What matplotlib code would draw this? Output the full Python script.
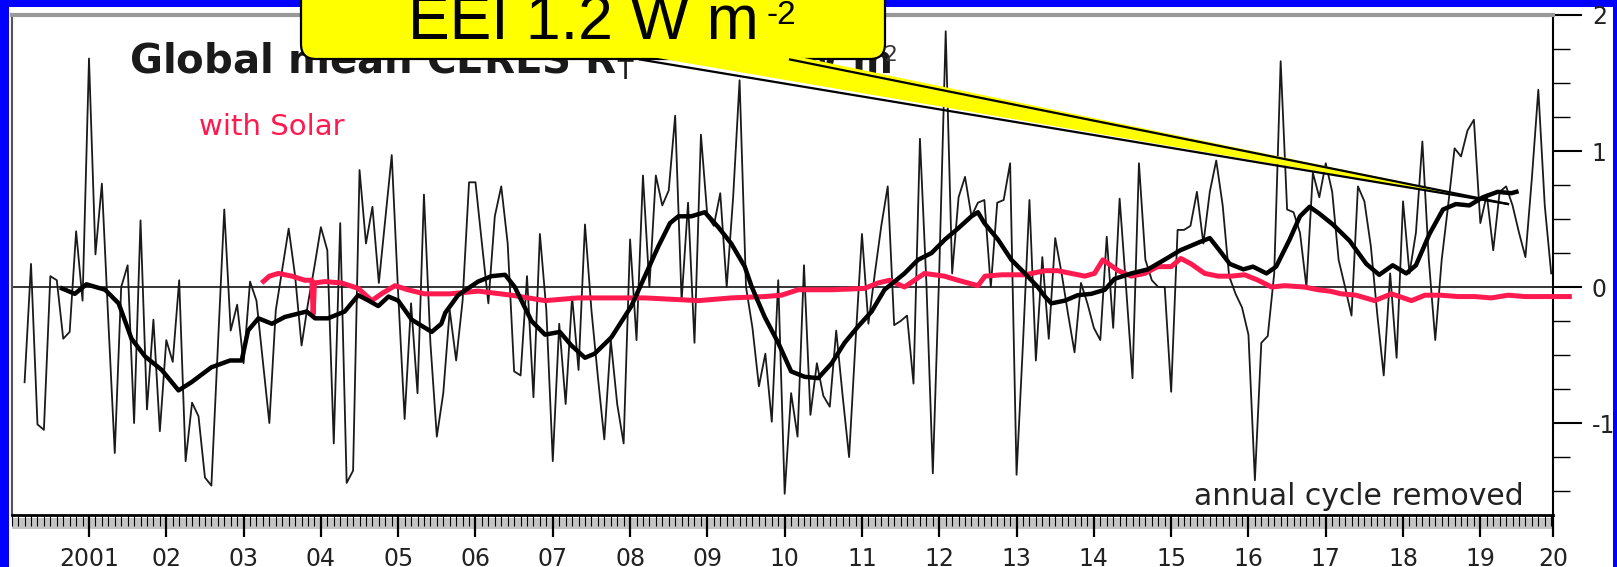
# Global mean CERES net radiation at the top of the atmosphere (R_T), with the EEI callout
# Values

import numpy as np
import matplotlib.pyplot as plt
from matplotlib.patches import FancyBboxPatch, Polygon, Rectangle
from matplotlib.lines import Line2D
from matplotlib.ticker import MultipleLocator

plt.rcParams['mathtext.fontset'] = 'custom'
plt.rcParams['mathtext.rm'] = 'Liberation Sans'
plt.rcParams['mathtext.it'] = 'Liberation Sans:italic'
plt.rcParams['mathtext.bf'] = 'Liberation Sans:bold'

# monthly R_T anomaly (W m-2), first value is March 2000 (months counted from Jan 2000)
rt_first_month = 2
rt_monthly = [
    -0.70, 0.17, -1.01, -1.05, 0.08, 0.05, -0.38, -0.33, 0.41, -0.10,                # 2000
    1.68, 0.24, 0.76, -0.25, -1.22, 0.00, 0.16, -1.00, 0.49, -0.90, -0.24, -1.06,    # 2001
    -0.39, -0.55, 0.05, -1.28, -0.85, -0.95, -1.40, -1.46, -0.45, 0.57, -0.32, -0.13,  # 2002
    -0.56, 0.04, -0.10, -0.55, -1.00, -0.17, 0.13, 0.43, 0.08, -0.43, -0.12, 0.15,   # 2003
    0.44, 0.27, -1.15, 0.47, -1.44, -1.35, 0.86, 0.32, 0.59, 0.03, 0.50, 0.97,       # 2004
    -0.05, -0.97, -0.12, -0.78, 0.68, -0.41, -1.10, -0.78, -0.17, -0.54, -0.10, 0.77,  # 2005
    0.77, 0.32, -0.12, 0.52, 0.74, 0.32, -0.62, -0.65, 0.08, -0.81, 0.39, -0.17,     # 2006
    -1.28, -0.27, -0.86, -0.07, -0.61, 0.46, -0.17, -0.66, -1.12, -0.39, -0.86, -1.15,  # 2007
    0.35, -0.39, 0.82, 0.00, 0.82, 0.60, 0.71, 1.26, -0.10, 0.62, -0.41, 1.12,       # 2008
    0.52, 0.45, 0.69, 0.00, 0.66, 1.52, 0.00, -0.30, -0.73, -0.49, -0.99, 0.05,      # 2009
    -1.52, -0.78, -1.10, 0.16, -0.94, -0.56, -0.80, -0.88, -0.32, -0.80, -1.25, -0.40,  # 2010
    0.39, -0.27, 0.10, 0.45, 0.74, -0.28, -0.25, -0.21, -0.71, 1.09, 0.03, -1.37,    # 2011
    0.12, 1.88, 0.10, 0.66, 0.81, 0.52, 0.62, 0.64, 0.00, 0.62, 0.64, 0.91,          # 2012
    -1.38, -0.41, 0.64, -0.54, 0.22, -0.38, 0.36, 0.10, -0.20, -0.48, 0.03, -0.12,   # 2013
    -0.30, -0.39, 0.37, -0.30, 0.65, 0.00, -0.67, 0.91, 0.20, 0.05, 0.00, 0.00,      # 2014
    -0.77, 0.42, 0.42, 0.45, 0.70, 0.32, 0.70, 0.93, 0.60, 0.08, -0.05, -0.15,       # 2015
    -0.35, -1.42, -0.41, -0.36, 0.10, 1.66, 0.57, 0.55, 0.40, 0.00, 0.84, 0.66,      # 2016
    0.91, 0.70, 0.20, 0.00, -0.21, 0.74, 0.63, 0.30, -0.20, -0.65, 0.10, -0.52,      # 2017
    0.63, 0.10, 0.40, 1.07, 0.20, -0.39, 0.20, 0.60, 1.02, 0.96, 1.15, 1.23,         # 2018
    0.47, 0.68, 0.27, 0.70, 0.74, 0.60, 0.40, 0.22, 0.80, 1.45, 0.60, 0.10,          # 2019
]

# 12-month running mean (thick black), months since Jan 2000 and value
smooth_month = [7.8, 9.8, 11.6, 14.5, 16.6, 18.6, 20.7, 23.3, 25.9, 27.9, 31.0, 33.9,
                35.7, 36.7, 38.3, 40.4, 42.4, 45.8, 47.1, 49.1, 51.7, 53.8, 55.4, 56.9,
                58.5, 60.0, 62.1, 65.2, 66.7, 67.3, 69.3, 72.4, 74.5, 76.6, 78.1, 80.7,
                82.8, 85.1, 86.9, 89.0, 90.5, 93.1, 96.2, 98.3, 100.4, 102.2, 103.5, 105.5,
                107.6, 109.7, 111.7, 113.8, 114.9, 116.9, 119.0, 121.0, 123.1, 125.2, 127.3, 129.3,
                131.4, 133.5, 135.5, 138.6, 140.7, 142.8, 144.9, 146.9, 149.0, 150.0, 151.0, 153.1,
                155.2, 157.3, 159.3, 160.4, 161.4, 163.5, 165.5, 167.6, 169.7, 171.2, 173.8, 176.4,
                179.3, 181.4, 184.4, 186.0, 187.5, 189.1, 191.2, 192.7, 194.8, 196.3, 198.4, 200.0,
                201.5, 203.0, 205.1, 207.7, 210.3, 212.3, 214.4, 216.5, 218.0, 220.1, 222.2, 224.2,
                226.3, 228.4, 230.7, 232.8, 233.6]
smooth_value = [-0.01, -0.05, 0.02, -0.02, -0.12, -0.38, -0.51, -0.61, -0.76, -0.70, -0.59, -0.54,
                -0.54, -0.32, -0.23, -0.27, -0.22, -0.18, -0.23, -0.23, -0.18, -0.06, -0.10, -0.14,
                -0.07, -0.10, -0.24, -0.33, -0.27, -0.19, -0.06, 0.04, 0.08, 0.09, 0.00, -0.25,
                -0.35, -0.33, -0.43, -0.52, -0.49, -0.37, -0.14, 0.08, 0.30, 0.47, 0.52, 0.52,
                0.55, 0.44, 0.32, 0.15, 0.00, -0.22, -0.41, -0.62, -0.66, -0.67, -0.56, -0.41,
                -0.29, -0.18, -0.02, 0.10, 0.20, 0.25, 0.35, 0.43, 0.52, 0.55, 0.47, 0.35,
                0.20, 0.10, 0.00, -0.07, -0.12, -0.10, -0.06, -0.05, -0.02, 0.06, 0.10, 0.13,
                0.21, 0.27, 0.33, 0.36, 0.27, 0.17, 0.13, 0.15, 0.10, 0.15, 0.35, 0.52,
                0.59, 0.54, 0.46, 0.34, 0.17, 0.09, 0.16, 0.10, 0.16, 0.39, 0.57, 0.61,
                0.60, 0.66, 0.70, 0.69, 0.70]

# "with Solar" series (red), months since Jan 2000 and value
solar_month = [38.8, 40.0, 41.4, 43.5, 45.5, 46.6, 46.8, 47.0, 48.6, 51.2, 53.8, 55.9,
               57.4, 59.5, 61.5, 64.1, 68.0, 72.4, 77.6, 82.8, 87.9, 93.1, 98.3, 106.6,
               111.7, 116.9, 119.5, 122.1, 127.3, 132.4, 134.5, 136.3, 138.6, 141.7, 144.8, 146.9,
               150.0, 151.1, 153.7, 157.3, 160.4, 162.4, 164.5, 166.6, 168.1, 169.4, 171.8, 173.8,
               175.9, 177.9, 180.0, 181.5, 183.1, 185.2, 187.3, 189.3, 191.4, 193.5, 195.6, 197.6,
               200.7, 202.8, 204.6, 206.4, 208.7, 211.6, 214.2, 217.3, 219.4, 221.9, 224.5, 227.1,
               229.7, 232.3, 234.9, 238.7, 242.2]
solar_value = [0.03, 0.08, 0.10, 0.08, 0.05, 0.05, -0.20, 0.03, 0.04, 0.03, -0.01, -0.10,
               -0.05, 0.01, -0.02, -0.05, -0.05, -0.03, -0.06, -0.10, -0.08, -0.08, -0.08, -0.10,
               -0.08, -0.07, -0.06, -0.02, -0.02, -0.01, 0.03, 0.05, 0.00, 0.10, 0.08, 0.05,
               0.01, 0.08, 0.09, 0.09, 0.12, 0.12, 0.10, 0.08, 0.10, 0.20, 0.12, 0.08,
               0.10, 0.15, 0.15, 0.21, 0.17, 0.10, 0.08, 0.08, 0.09, 0.05, 0.00, 0.01,
               0.00, -0.02, -0.03, -0.05, -0.06, -0.10, -0.05, -0.10, -0.06, -0.06, -0.07, -0.07,
               -0.08, -0.06, -0.07, -0.07, -0.07]

# axis ticks and labels
year_ticks = list(range(2001, 2020))
year_labels = ["2001"] + ["%02d" % (y % 100) for y in range(2002, 2020)]
x_end = 2019.94
y_ticks = [-1, 0, 1, 2]
y_labels = ["-1", "0", "1", "2"]

W, H = 1617, 567
fig = plt.figure(figsize=(W / 100, H / 100), dpi=100)
fig.patch.set_facecolor('#0000ff')

# white panel inside the blue frame (in inches, from the bottom left)
fig.add_artist(Rectangle((0.09, 0), 16.04, 5.60, transform=fig.dpi_scale_trans,
                         facecolor='white', edgecolor='none', zorder=0))

ax = fig.add_axes([11.7 / W, (H - 515) / H, (1553 - 11.7) / W, 500 / H])
ax.set_facecolor('white')

# convert the month counts to decimal years
rt_years = 2000 + (rt_first_month + np.arange(len(rt_monthly))) / 12
smooth_years = 2000 + np.array(smooth_month) / 12
solar_years = 2000 + np.array(solar_month) / 12

ax.axhline(0, color='black', lw=1.1, zorder=1)
ax.plot(rt_years, rt_monthly, color='#1a1a1a', lw=1.3, zorder=2)
ax.plot(solar_years, solar_value, color='#ff1a4f', lw=3.6, zorder=3,
        solid_capstyle='butt', clip_on=False)
ax.plot(smooth_years, smooth_value, color='black', lw=3.2, zorder=4)

ax.set_xlim(2000, x_end)
ax.set_ylim(-1.676, 2.0)

# x axis: years plus monthly minor ticks, "20" at the right end
ax.set_xticks(year_ticks + [x_end - 0.0005])
ax.set_xticklabels(year_labels + ["20"])
ax.xaxis.set_minor_locator(MultipleLocator(1 / 12))
ax.tick_params(axis='x', which='major', length=16, width=1.6, direction='out',
               pad=7, labelsize=17, labelcolor='#222222')
ax.tick_params(axis='x', which='minor', length=8, width=0.8, direction='out')

# gray band under the bottom axis
ax.add_patch(Rectangle((0, -0.027), 1, 0.021, transform=ax.transAxes,
                       facecolor='#c4c4c4', edgecolor='none', clip_on=False, zorder=0))

# y axis on the right
ax.yaxis.tick_right()
ax.set_yticks(y_ticks)
ax.set_yticklabels(y_labels)
ax.yaxis.set_minor_locator(MultipleLocator(0.25))
ax.tick_params(axis='y', which='major', length=21, width=1.5, direction='out',
               pad=7, labelsize=17, labelcolor='#222222')
ax.tick_params(axis='y', which='minor', length=12, width=1.0, direction='out')

ax.spines['left'].set_color('#555555')
ax.spines['left'].set_linewidth(1.5)
ax.spines['top'].set_color('#999999')
ax.spines['top'].set_linewidth(3)
ax.spines['right'].set_linewidth(1.5)
ax.spines['bottom'].set_linewidth(2)


def pos(x, y):
    # pixel position (from the top left) to inches from the bottom left
    return x / 100, (H - y) / 100


# texts in the plot (the callout hides most of the title)
fig.text(*pos(129, 73), r"Global mean CERES R$_{\rm T}$", transform=fig.dpi_scale_trans,
         fontsize=29, fontweight='bold', color='#1a1a1a', va='baseline')
fig.text(*pos(796, 73), "W m", transform=fig.dpi_scale_trans,
         fontsize=28, fontweight='bold', color='#1a1a1a', va='baseline')
fig.text(*pos(877, 61), "-2", transform=fig.dpi_scale_trans,
         fontsize=15, color='#333333', va='baseline')
fig.text(*pos(199, 127), "with Solar", transform=fig.dpi_scale_trans,
         fontsize=21, color='#ff1a4f', va='center')
fig.text(*pos(1194, 505), "annual cycle removed", transform=fig.dpi_scale_trans,
         fontsize=21.5, color='#222222', va='baseline')

# yellow callout on top of everything
box_x0, box_x1, box_y0, box_y1 = 301, 885, -40, 59
fig.add_artist(FancyBboxPatch(pos(box_x0, box_y1), (box_x1 - box_x0) / 100, (box_y1 - box_y0) / 100,
                              boxstyle='round,pad=0,rounding_size=0.15',
                              transform=fig.dpi_scale_trans, facecolor='#ffff00',
                              edgecolor='black', lw=1.6, zorder=10, clip_on=False))
tip = (1508, 204)
fig.add_artist(Polygon([pos(640, 55), pos(790, 55), pos(*tip)], closed=True,
                       transform=fig.dpi_scale_trans, facecolor='#ffff00',
                       edgecolor='none', zorder=11))
for base_x in (640, 790):
    (x0, y0), (x1, y1) = pos(base_x, 59.5), pos(*tip)
    fig.add_artist(Line2D([x0, x1], [y0, y1], transform=fig.dpi_scale_trans,
                          color='black', lw=1.6, zorder=12))
fig.text(*pos(583, 39), "EEI 1.2 W m", transform=fig.dpi_scale_trans,
         fontsize=45, family='Liberation Sans', color='black', ha='center',
         va='baseline', zorder=13)
fig.text(*pos(767, 24), "-2", transform=fig.dpi_scale_trans,
         fontsize=24, family='Liberation Sans', color='black', va='baseline', zorder=13)

fig.savefig('out.png', dpi=100)
